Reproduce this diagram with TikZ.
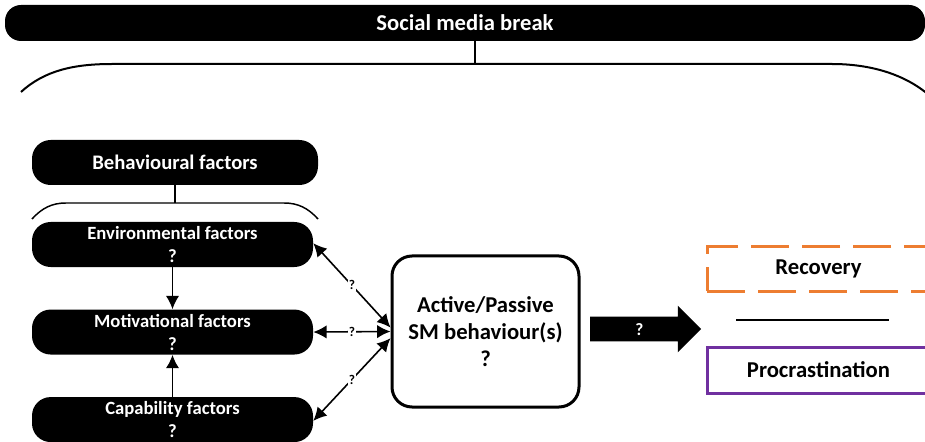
\documentclass[tikz,border=0pt]{standalone}
\usepackage{fontspec}
\setmainfont{Carlito}
\usetikzlibrary{arrows.meta, positioning, shapes.arrows}
\definecolor{recovorange}{HTML}{ED7D31}
\definecolor{procrpurple}{HTML}{7030A0}
\tikzset{
  topbar/.style={rectangle,fill=black,text=white,rounded corners=12pt,inner sep=0pt,
    minimum width=690pt,minimum height=27pt,font=\bfseries\fontsize{17}{20}\selectfont},
  pill/.style={rectangle,fill=black,text=white,rounded corners=14pt,align=center,inner sep=0pt,
    minimum width=210.75pt,minimum height=33.75pt,font=\bfseries\fontsize{14}{17.25}\selectfont},
  smbox/.style={rectangle,draw,line width=2.25pt,rounded corners=15pt,align=center,
    minimum width=140.25pt,minimum height=113.25pt,font=\bfseries\fontsize{17}{20.25}\selectfont},
  bigarrow/.style={single arrow,fill=black,text=white,single arrow head extend=8.25pt,
    minimum height=83.25pt,inner xsep=0pt,inner ysep=4.5pt,text height=9pt,text depth=0pt,
    font=\bfseries\fontsize{13}{15}\selectfont},
  outcome/.style={rectangle,line width=2.25pt,minimum width=167.25pt,
    font=\bfseries\fontsize{17}{20}\selectfont},
  qmark/.style={fill=white,inner sep=0.6pt,font=\bfseries\fontsize{10}{11}\selectfont},
  linkline/.style={line width=1.5pt},
  line/.style={-{Latex[length=10pt,width=10pt]},line width=1.4pt},
  dline/.style={{Latex[length=10pt,width=10pt]}-{Latex[length=10pt,width=10pt]},line width=1.2pt}
}
\begin{document}
\begin{tikzpicture}[x=0.75pt,y=-0.75pt,node distance=31.5pt]
\useasboundingbox (0,0) rectangle (925,442);
% top level
\node[topbar] (title) at (465,23) {Social media break};
\coordinate (topmid) at (475,64);
\draw[linkline] (title.south -| topmid) -- (topmid);
\draw[linkline] (21,92) .. controls (45,70) and (75,64) .. (112,64) -- (832,64)
  .. controls (870,64) and (905,74) .. (930,96);
% behavioural factors
\node[pill,minimum width=214.5pt,font=\bfseries\fontsize{15.5}{18}\selectfont] (behav) at (175,162.5) {Behavioural factors};
\coordinate (bracemid) at (175,203);
\draw[line width=1.1pt] (behav.south) -- (bracemid);
\draw[line width=1.1pt] (32,219) .. controls (42,208) and (52,203) .. (66,203) -- (284,203)
  .. controls (298,203) and (308,208) .. (318,219);
\node[pill] (env) at (172.5,244.5) {Environmental factors\\?};
\node[pill, below=of env] (motiv) {Motivational factors\\?};
\node[pill, below=of motiv] (capab) {Capability factors\\?};
\draw[line] (env) -- (motiv);
\draw[line] (capab) -- (motiv);
% SM behaviour
\node[smbox] (sm) at (485.5,331.5) {Active/Passive\\SM behaviour(s)\\?};
\draw[dline] ([yshift=1pt]env.east) -- node[qmark] {?} ([yshift=3pt]sm.west);
\draw[dline] (motiv.east) -- node[qmark] {?} (sm.west);
\draw[dline] ([yshift=-1pt]capab.east) -- node[qmark] {?} ([yshift=-5pt]sm.west);
\node[bigarrow] (effect) at (639.5,329) {?};
% outcomes
\node[outcome,draw=recovorange,dash pattern=on 28.5pt off 9.75pt,minimum height=33pt] (recov) at (818.5,269) {Recovery};
\node[outcome,draw=procrpurple,minimum height=34.5pt] (procr) at (818.5,370) {Procrastination};
\draw[line width=1pt] (736,320) -- (889,320);
\end{tikzpicture}
\end{document}
